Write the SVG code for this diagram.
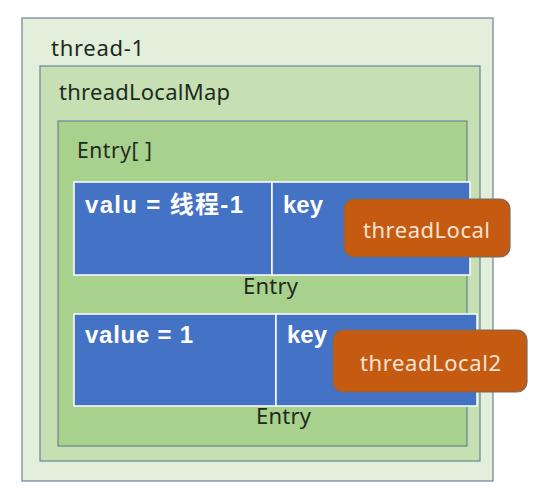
<svg xmlns="http://www.w3.org/2000/svg" width="540" height="503" viewBox="0 0 540 503">
<style>
.box{stroke:#6f8196;stroke-width:1.2}
.lbl{font-family:"Microsoft YaHei","Noto Sans","Noto Sans CJK SC",sans-serif;fill:#1e2a1e}
.cell{fill:#4472C4;stroke:#ffffff;stroke-width:1.5}
.wt{font-family:"Liberation Sans","Noto Sans CJK SC",sans-serif;font-weight:bold;fill:#ffffff;font-size:24px}
.tl{fill:#C55A11;stroke:#7a6a60;stroke-width:1.2}
.tlt{font-family:"Noto Sans","Noto Sans CJK SC",sans-serif;fill:#f8e4d6;font-size:22px}
</style>
<rect width="540" height="503" fill="#ffffff"/>
<g id="thread1">
<rect class="box" x="22" y="18" width="471" height="463" fill="#E2EFDA"/>
<text class="lbl" x="51" y="56" font-size="22" textLength="93">thread-1</text>
</g>
<g id="threadLocalMap">
<rect class="box" x="40" y="66" width="440" height="395" fill="#C6E0B4"/>
<text class="lbl" x="59" y="100" font-size="22" textLength="171">threadLocalMap</text>
</g>
<g id="entryArray">
<rect class="box" x="58" y="121" width="409" height="325" fill="#A9D18E"/>
<text class="lbl" x="77" y="158" font-size="21" textLength="75">Entry[ ]</text>
</g>
<g id="entry1">
<rect class="cell" x="74" y="182" width="198" height="93"/>
<rect class="cell" x="272" y="182" width="198" height="93"/>
<text class="wt" x="85" y="213" textLength="158">valu = 线程-1</text>
<text class="wt" x="283" y="213" textLength="40">key</text>
<text class="lbl" x="243" y="294" font-size="22" textLength="55">Entry</text>
</g>
<g id="threadLocal">
<rect class="tl" x="344" y="199" width="166" height="58" rx="10"/>
<text class="tlt" x="363" y="238" textLength="127">threadLocal</text>
</g>
<g id="entry2">
<rect class="cell" x="74" y="314" width="202" height="92"/>
<rect class="cell" x="276" y="314" width="201" height="92"/>
<text class="wt" x="85" y="343" textLength="108">value = 1</text>
<text class="wt" x="287" y="343" textLength="40">key</text>
<text class="lbl" x="256" y="424" font-size="22" textLength="55">Entry</text>
</g>
<g id="threadLocal2">
<rect class="tl" x="333" y="330" width="194" height="62" rx="10"/>
<text class="tlt" x="360" y="371" textLength="141">threadLocal2</text>
</g>
<g id="connectors"/>
</svg>
